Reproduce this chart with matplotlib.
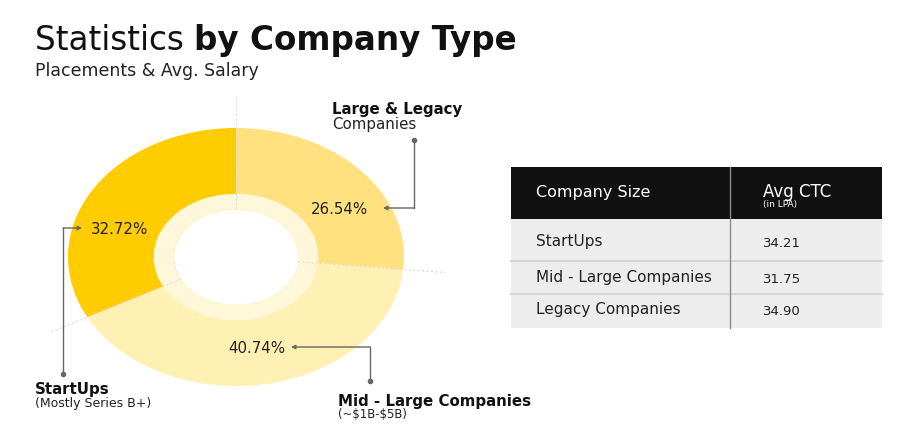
import matplotlib
matplotlib.use('Agg')
import matplotlib.pyplot as plt
import numpy as np
from matplotlib.patches import Wedge, Rectangle

# donut data (clockwise from top)
segments = ['Large & Legacy', 'Mid - Large Companies', 'StartUps']
shares = [26.54, 40.74, 32.72]
seg_colors = ['#FFE17F', '#FFF0B3', '#FFCC00']

# table data
table_cols = ['Company Size', 'Avg CTC']
table_rows = ['StartUps', 'Mid - Large Companies', 'Legacy Companies']
avg_ctc = ['34.21', '31.75', '34.90']

plt.rcParams['font.family'] = ['DejaVu Sans']
W, H = 904, 430
fig = plt.figure(figsize=(W / 100, H / 100), dpi=100)
fig.patch.set_facecolor('white')

# donut axes, stretched horizontally like the reference
cx, cy, rx, ry = 236, 257, 168, 129
pax = fig.add_axes([(cx - rx) / W, (H - cy - ry) / H, 2 * rx / W, 2 * ry / H])
wedges, _ = pax.pie(shares, colors=seg_colors, startangle=90, counterclock=False,
                    radius=1, wedgeprops=dict(width=0.63, linewidth=0))
pax.set_aspect('auto')
pax.set_xlim(-1, 1)
pax.set_ylim(-1, 1)
pax.axis('off')
pax.add_patch(Wedge((0, 0), 0.49, 0, 360, width=0.12, facecolor='#FFF7DA', lw=0))
for w in wedges:
    a = np.deg2rad(w.theta2)
    pax.plot([0.37 * np.cos(a), 1.25 * np.cos(a)], [0.37 * np.sin(a), 1.25 * np.sin(a)],
             ls=(0, (2, 2)), color='#DADADA', lw=0.8, clip_on=False)

# overlay in pixel coordinates
ax = fig.add_axes([0, 0, 1, 1])
ax.set_xlim(0, W)
ax.set_ylim(H, 0)
ax.axis('off')

renderer = fig.canvas.get_renderer()
t1 = ax.text(35, 50, 'Statistics ', fontsize=23.5, color='#111111', va='baseline')
bb = t1.get_window_extent(renderer)
ax.text(bb.x1, H - 50, 'by Company Type', fontsize=23.5, fontweight='bold',
        color='#111111', va='baseline', transform=None)
ax.text(35, 76, 'Placements & Avg. Salary', fontsize=12.5, color='#222222', va='baseline')

lc = '#666666'

def callout(dot, corner, tip):
    ax.plot([dot[0], corner[0]], [dot[1], corner[1]], color=lc, lw=1)
    ax.plot(dot[0], dot[1], 'o', color=lc, ms=3)
    ax.annotate('', xy=tip, xytext=corner,
                arrowprops=dict(arrowstyle='-|>', color=lc, lw=1, mutation_scale=6,
                                shrinkA=0, shrinkB=0))

# Large & Legacy
ax.text(332, 114, segments[0], fontsize=10.8, fontweight='bold', color='#111111', va='baseline')
ax.text(332, 129, 'Companies', fontsize=10.8, color='#222222', va='baseline')
ax.text(340, 214, f'{shares[0]:.2f}%', fontsize=10.8, color='#222222', va='baseline', ha='center')
callout((414, 140), (414, 208), (383, 208))

# StartUps
ax.text(120, 234, f'{shares[2]:.2f}%', fontsize=10.8, color='#222222', va='baseline', ha='center')
callout((63, 374), (63, 228), (82, 228))
ax.text(35, 394, segments[2], fontsize=10.8, fontweight='bold', color='#111111', va='baseline')
ax.text(35, 407, '(Mostly Series B+)', fontsize=9, color='#222222', va='baseline')

# Mid - Large
ax.text(257, 353, f'{shares[1]:.2f}%', fontsize=10.8, color='#222222', va='baseline', ha='center')
callout((370, 381), (370, 347), (291, 347))
ax.text(338, 406, segments[1], fontsize=10.8, fontweight='bold', color='#111111', va='baseline')
ax.text(338, 418, r'(~\$1B-\$5B)', fontsize=8.4, color='#222222', va='baseline')

# table
tx0, tx1, tdiv = 511, 882, 730
hy0, hy1 = 167, 219
row_edges = [219, 261, 294, 328]
ax.add_patch(Rectangle((tx0, hy0), tx1 - tx0, hy1 - hy0, facecolor='#111111', lw=0))
ax.add_patch(Rectangle((tx0, hy1), tx1 - tx0, row_edges[-1] - hy1, facecolor='#EDEDED', lw=0))
for y in row_edges[1:-1]:
    ax.plot([tx0, tx1], [y, y], color='#D6D6D6', lw=1.5)
ax.plot([tdiv, tdiv], [hy0, row_edges[-1]], color='#8A8A8A', lw=1)

ax.text(536, 197, table_cols[0], fontsize=11.5, color='white', va='baseline')
ax.text(763, 197, table_cols[1], fontsize=12, color='white', va='baseline')
ax.text(763, 207, '(in LPA)', fontsize=6.5, color='white', va='baseline')
row_base = [246, 282, 314]
for name, val, yb in zip(table_rows, avg_ctc, row_base):
    ax.text(536, yb, name, fontsize=11, color='#222222', va='baseline')
    ax.text(763, yb + 1, val, fontsize=9.5, color='#222222', va='baseline')

fig.savefig('out.png', dpi=100, facecolor='white')
